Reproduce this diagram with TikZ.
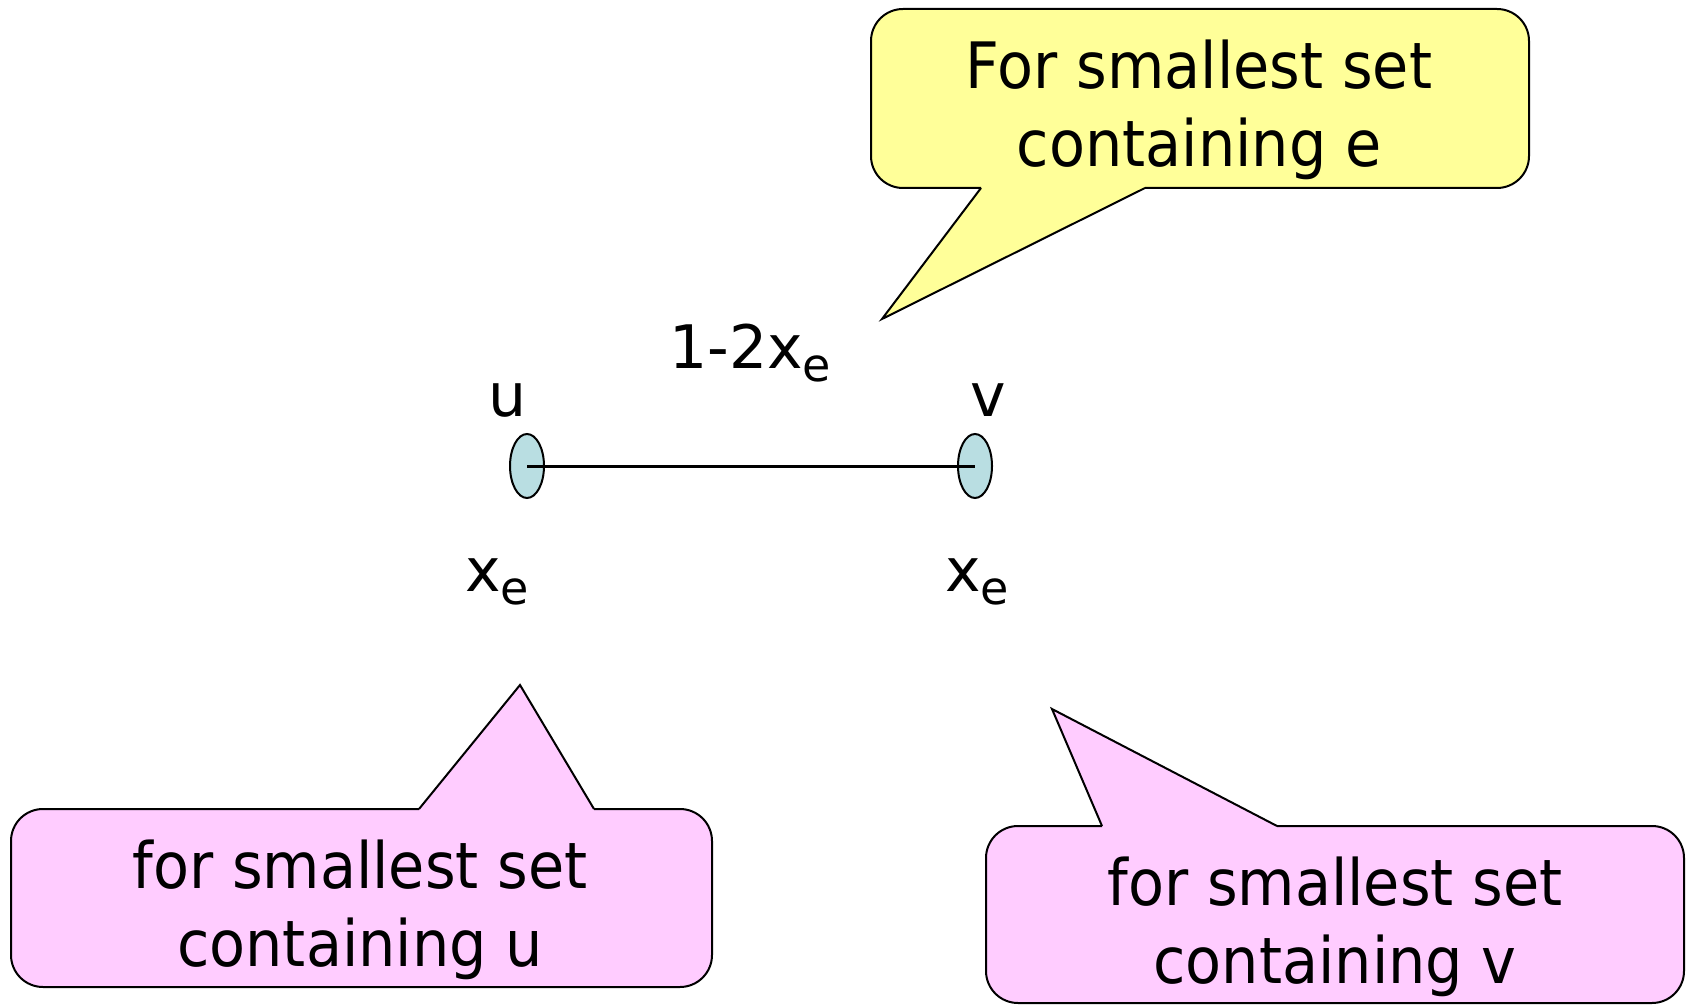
\documentclass[tikz,border=0pt]{standalone}
\usepackage{fontspec}
\setmainfont{DejaVu Sans}
\newfontfamily\callfont[FakeStretch=0.92]{DejaVu Sans}
\usetikzlibrary{shapes.geometric}
\definecolor{calloutyellow}{RGB}{255,255,153}
\definecolor{calloutpink}{RGB}{255,204,255}
\definecolor{vertexblue}{RGB}{185,222,226}
\newcommand\subE{\raisebox{-6.5pt}{\fontsize{23}{23}\selectfont e}}
\tikzset{
  callouttext/.style={align=center, inner sep=0pt, font=\callfont\fontsize{32}{39}\selectfont},
  lbltext/.style={inner sep=0pt, font=\fontsize{30}{36}\selectfont},
  vertex/.style={ellipse, draw=black, line width=1pt, fill=vertexblue, minimum width=17pt, minimum height=32pt, inner sep=0pt},
  outline/.style={draw=black, line width=1pt, line join=miter},
}
\begin{document}
\begin{tikzpicture}[x=0.5pt,y=-0.5pt]
\useasboundingbox[fill=white] (0,0) rectangle (1686,1005);

% yellow callout (tail down-left)
\fill[calloutyellow, rounded corners=16pt] (871,9) rectangle (1529,188);
\fill[calloutyellow] (882,319) -- (981,188) -- (981,180) -- (1145,180) -- (1145,188) -- cycle;
\draw[outline, rounded corners=16pt] (1145,188) -- (1529,188) -- (1529,9) -- (871,9) -- (871,188) -- (981,188);
\draw[outline] (981,188) -- (882,319) -- (1145,188);
\node[callouttext] (ctext) at (1199,110) {For smallest set\\containing e};

% pink callout left (tail up)
\fill[calloutpink, rounded corners=16pt] (11,809) rectangle (712,987);
\fill[calloutpink] (520,685) -- (419,809) -- (419,817) -- (594,817) -- (594,809) -- cycle;
\draw[outline, rounded corners=16pt] (419,809) -- (11,809) -- (11,987) -- (712,987) -- (712,809) -- (594,809);
\draw[outline] (419,809) -- (520,685) -- (594,809);
\node[callouttext] (utext) at (360,910) {for smallest set\\containing u};

% pink callout right (tail up)
\fill[calloutpink, rounded corners=16pt] (986,826) rectangle (1684,1003);
\fill[calloutpink] (1052,709) -- (1102,826) -- (1102,834) -- (1277,834) -- (1277,826) -- cycle;
\draw[outline, rounded corners=16pt] (1102,826) -- (986,826) -- (986,1003) -- (1684,1003) -- (1684,826) -- (1277,826);
\draw[outline] (1102,826) -- (1052,709) -- (1277,826);
\node[callouttext] (vtext) at (1335,927) {for smallest set\\containing v};

% edge
\node[vertex] (u) at (527,466) {};
\node[vertex] (v) at (975,466) {};
\draw[line width=1.5pt] (u.center) -- (v.center);

% labels
\node[lbltext, anchor=base west] (elabel) at (669,369) {1-2x\subE};
\node[lbltext, anchor=base] (ulabel) at (508,416) {u};
\node[lbltext, anchor=base] (vlabel) at (988,416) {v};
\node[lbltext, anchor=base west] (xu) at (465,591) {x\subE};
\node[lbltext, anchor=base west] (xv) at (945,591) {x\subE};
\end{tikzpicture}
\end{document}
